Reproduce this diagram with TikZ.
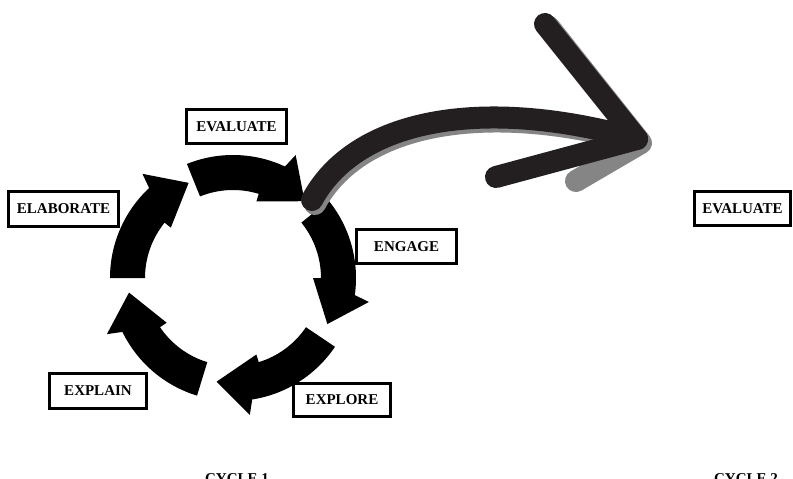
\documentclass[tikz,border=0pt]{standalone}
\usepackage{fontspec}
\setmainfont{Liberation Serif}
\usetikzlibrary{calc}
\definecolor{ink}{HTML}{231F20}
\definecolor{shade}{HTML}{858585}
\begin{document}
\begin{tikzpicture}[x=1pt,y=-1pt,
  labelbox/.style={draw=black, line width=2.8pt, fill=white, inner sep=0pt,
    font=\fontsize{15}{18}\selectfont\bfseries, minimum width=100pt, minimum height=34pt},
  bigstroke/.style={draw=ink, line width=22pt, line cap=round, line join=round},
  shadowstroke/.style={draw=shade, line width=22pt, line cap=round, line join=round},
  cyclelabel/.style={font=\fontsize{15}{18}\selectfont\bfseries, inner sep=0pt, anchor=north}]
\useasboundingbox (0,0) rectangle (793,479);
\clip (0,0) rectangle (793,479);
\fill[white] (0,0) rectangle (793,479);
% cycle of five arrows
\begin{scope}[shift={(233,278)}]
\foreach \T in {-47,26,99,172,245} {
  \fill[black] (\T-65:123) arc[start angle=\T-65, end angle=\T-18, radius=123]
    -- (\T-16:138) -- (\T:105) -- (\T-26:80) -- (\T-26:88)
    arc[start angle=\T-26, end angle=\T-65, radius=88] -- cycle;
}
\end{scope}
% labels
\node[labelbox] (evaluate1) at (236.5,126.5) {EVALUATE};
\node[labelbox, minimum width=110pt, minimum height=35pt] (elaborate) at (63.5,209) {ELABORATE};
\node[labelbox] (engage) at (406.5,246.5) {ENGAGE};
\node[labelbox, minimum width=97pt, minimum height=33pt] (explore) at (342,400) {EXPLORE};
\node[labelbox, minimum width=97pt, minimum height=35pt] (explain) at (98,391) {EXPLAIN};
\node[labelbox, minimum width=96pt] (evaluate2) at (742.5,208.5) {EVALUATE};
\node[cyclelabel] (cycle1) at (237,473) {CYCLE 1};
\node[cyclelabel] (cycle2) at (746,473) {CYCLE 2};
% big arrow
\coordinate (s) at (312,200);
\coordinate (t) at (637,139);
\coordinate (b1) at (545,24);
\coordinate (b2) at (496,177);
\coordinate (sb) at (576,181);
\draw[shadowstroke] ($(s)+(3,4)$) .. controls (358,124) and (483,99) .. ($(t)+(3,4)$);
\draw[shadowstroke] ($(b1)+(4,3)$) -- ($(t)+(4,4)$) -- (sb);
\draw[bigstroke] (s) .. controls (355,120) and (480,95) .. (t);
\draw[bigstroke] (b1) -- (t) -- (b2);
\end{tikzpicture}
\end{document}
